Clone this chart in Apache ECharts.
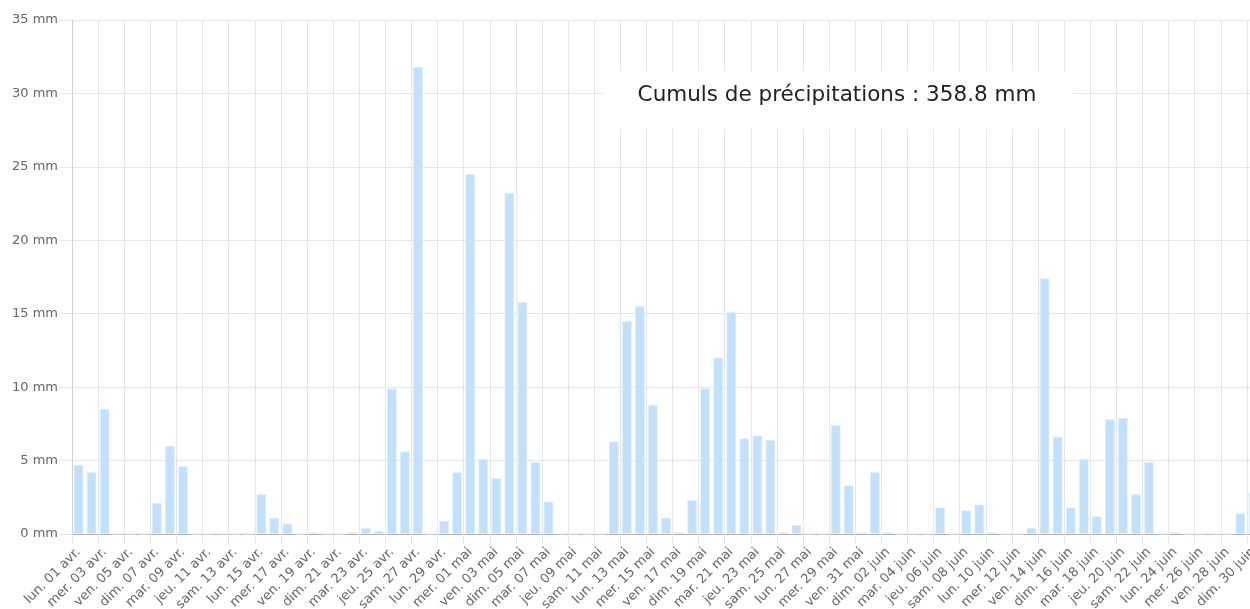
<!DOCTYPE html>
<html>
<head>
<meta charset="utf-8">
<script src="https://cdn.jsdelivr.net/npm/echarts@6/dist/echarts.min.js"></script>
<style>
html, body { margin: 0; padding: 0; background: #fff; overflow: hidden; width: 1250px; height: 609px; }
#chart { width: 1260px; height: 609px; }
</style>
</head>
<body>
<div id="chart"></div>
<script>
// Category labels (one per day, 1 April to 30 June)
const dayLabels = [
  'lun. 01 avr.','mar. 02 avr.','mer. 03 avr.','jeu. 04 avr.','ven. 05 avr.','sam. 06 avr.','dim. 07 avr.',
  'lun. 08 avr.','mar. 09 avr.','mer. 10 avr.','jeu. 11 avr.','ven. 12 avr.','sam. 13 avr.','dim. 14 avr.',
  'lun. 15 avr.','mar. 16 avr.','mer. 17 avr.','jeu. 18 avr.','ven. 19 avr.','sam. 20 avr.','dim. 21 avr.',
  'lun. 22 avr.','mar. 23 avr.','mer. 24 avr.','jeu. 25 avr.','ven. 26 avr.','sam. 27 avr.','dim. 28 avr.',
  'lun. 29 avr.','mar. 30 avr.',
  'mer. 01 mai','jeu. 02 mai','ven. 03 mai','sam. 04 mai','dim. 05 mai','lun. 06 mai','mar. 07 mai',
  'mer. 08 mai','jeu. 09 mai','ven. 10 mai','sam. 11 mai','dim. 12 mai','lun. 13 mai','mar. 14 mai',
  'mer. 15 mai','jeu. 16 mai','ven. 17 mai','sam. 18 mai','dim. 19 mai','lun. 20 mai','mar. 21 mai',
  'mer. 22 mai','jeu. 23 mai','ven. 24 mai','sam. 25 mai','dim. 26 mai','lun. 27 mai','mar. 28 mai',
  'mer. 29 mai','jeu. 30 mai','ven. 31 mai',
  'sam. 01 juin','dim. 02 juin','lun. 03 juin','mar. 04 juin','mer. 05 juin','jeu. 06 juin','ven. 07 juin',
  'sam. 08 juin','dim. 09 juin','lun. 10 juin','mar. 11 juin','mer. 12 juin','jeu. 13 juin','ven. 14 juin',
  'sam. 15 juin','dim. 16 juin','lun. 17 juin','mar. 18 juin','mer. 19 juin','jeu. 20 juin','ven. 21 juin',
  'sam. 22 juin','dim. 23 juin','lun. 24 juin','mar. 25 juin','mer. 26 juin','jeu. 27 juin','ven. 28 juin',
  'sam. 29 juin','dim. 30 juin'
];

// Daily precipitation (mm)
const aprilMm = [4.7, 4.2, 8.5, 0, 0, 0, 2.1, 6.0, 4.6, 0, 0, 0, 0, 0, 2.7, 1.1, 0.7, 0, 0.1, 0,
                 0, 0.1, 0.4, 0.2, 9.9, 5.6, 31.8, 0, 0.9, 4.2];
const mayMm = [24.5, 5.1, 3.8, 23.2, 15.8, 4.9, 2.2, 0, 0, 0, 0, 6.3, 14.5, 15.5, 8.8, 1.1, 0.1, 2.3, 9.9, 12.0,
               15.1, 6.5, 6.7, 6.4, 0.1, 0.6, 0, 0, 7.4, 3.3, 0.1];
const juneMm = [4.2, 0.1, 0, 0, 0, 1.8, 0, 1.6, 2.0, 0.1, 0, 0, 0.4, 17.4, 6.6, 1.8, 5.1, 1.2, 7.8, 7.9,
                2.7, 4.9, 0, 0.1, 0, 0, 0, 0, 1.4, 2.8];

const yMin = 0, yMax = 35, yStep = 5;
const totalLabel = 'Cumuls de précipitations : 358.8 mm';

const rain = aprilMm.concat(mayMm, juneMm);
const FONT = 'DejaVu Sans';
const GRID = '#e6e6e6';

const chart = echarts.init(document.getElementById('chart'), null, { renderer: 'canvas' });
chart.setOption({
  animation: false,
  backgroundColor: '#fff',
  grid: { left: 72, right: 0, top: 20, bottom: 75, outerBoundsMode: 'none', containLabel: false },
  xAxis: [
    {
      type: 'category',
      data: dayLabels,
      boundaryGap: true,
      position: 'bottom',
      axisLine: { show: true, lineStyle: { color: '#b0b0b0', width: 1 } },
      axisTick: { show: false },
      splitLine: { show: false },
      axisLabel: {
        interval: 1,
        rotate: 45,
        margin: 16,
        color: '#666',
        fontFamily: FONT,
        fontSize: 13
      }
    },
    {
      type: 'value',
      min: 0,
      max: dayLabels.length,
      interval: 2,
      position: 'bottom',
      axisLine: { show: false },
      axisTick: { show: true, length: 10, lineStyle: { color: GRID } },
      splitLine: { show: true, lineStyle: { color: GRID } },
      axisLabel: { show: false }
    }
  ],
  yAxis: {
    type: 'value',
    min: yMin,
    max: yMax,
    interval: yStep,
    axisLine: { show: true, lineStyle: { color: '#d0d0d0' } },
    axisTick: { show: true, length: 12, lineStyle: { color: GRID } },
    splitLine: { show: true, lineStyle: { color: GRID } },
    axisLabel: {
      formatter: '{value} mm',
      color: '#666',
      fontFamily: FONT,
      fontSize: 13,
      margin: 14
    }
  },
  series: [{
    type: 'bar',
    xAxisIndex: 0,
    yAxisIndex: 0,
    data: rain,
    barWidth: 9.5,
    itemStyle: { color: '#c2e0f9', borderColor: '#d9ecfc', borderWidth: 0.8 }
  }],
  graphic: [
    {
      type: 'rect',
      left: 602, top: 71,
      shape: { width: 471, height: 58 },
      style: { fill: '#ffffff' },
      z: 100
    },
    {
      type: 'text',
      x: 837, y: 95,
      style: {
        text: totalLabel,
        fontFamily: FONT,
        fontSize: 21.5,
        fill: '#222',
        align: 'center',
        verticalAlign: 'middle'
      },
      z: 101
    }
  ]
});
</script>
</body>
</html>
